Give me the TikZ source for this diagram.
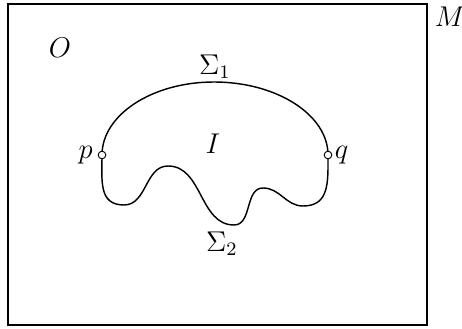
\documentclass[tikz,border=0pt]{standalone}
\usepackage{amsmath}
\usepackage{amssymb}
\usetikzlibrary{positioning}

\begin{document}
\begin{tikzpicture}[
    x=0.42pt,
    y=-0.42pt,
    semithick,
    font=\large,
    endpt/.style={circle, draw, thin, fill=white, inner sep=0pt, minimum size=3.2pt}
]

    \useasboundingbox (0,0) rectangle (462,329);

    % Manifold
    \draw (8,4) rectangle (427,325);
    \node (M) at (450,17) {$M$};
    \node (O) at (60,48) {$O$};

    % Points on the boundary
    \coordinate (p) at (102,155);
    \coordinate (q) at (328,155);
    \coordinate (top) at (214,82);

    % Upper hypersurface
    \draw (p) .. controls (102,115) and (152,82) .. (top)
              .. controls (277,82) and (328,115) .. (q);

    % Lower (wavy) hypersurface
    \coordinate (w1) at (124,205);
    \coordinate (w2) at (168,166);
    \coordinate (w3) at (234,225);
    \coordinate (w4) at (263,188);
    \coordinate (w5) at (303,206);
    \draw (p) to[out=-90, in=180, looseness=1.2] (w1)
              to[out=0, in=180] (w2)
              to[out=0, in=180] (w3)
              to[out=0, in=180] (w4)
              to[out=0, in=180] (w5)
              to[out=0, in=-90, looseness=1.2] (q);

    \node[endpt] (pc) at (p) {};
    \node[endpt] (qc) at (q) {};
    \node[left=-1.5pt of pc] (pl) {$p$};
    \node[right=-2.5pt of qc] (ql) {$q$};

    % Labels
    \node (S1) at (215,67) {$\Sigma_1$};
    \node (S2) at (222,244) {$\Sigma_2$};
    \node (I) at (213,144) {$I$};

\end{tikzpicture}
\end{document}
